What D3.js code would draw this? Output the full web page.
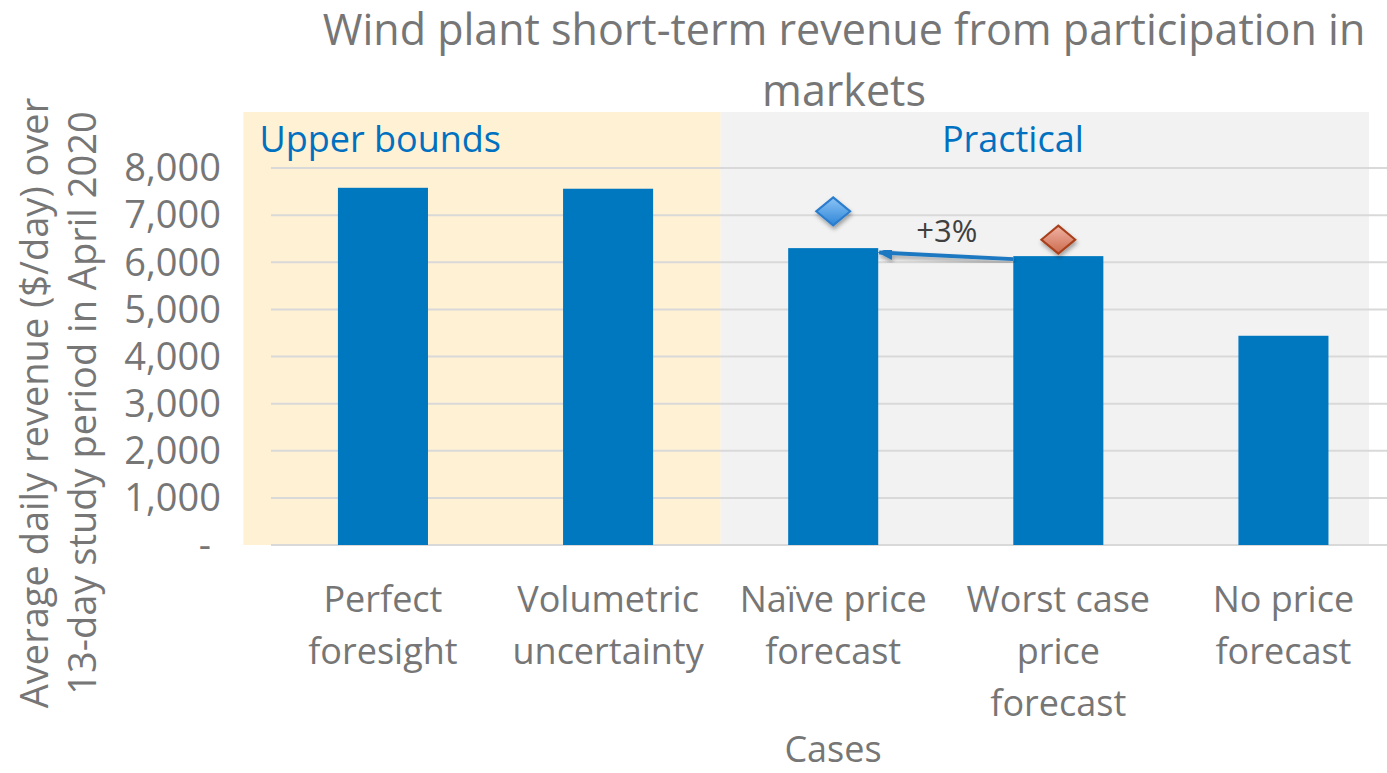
<!DOCTYPE html>
<html>
<head>
<meta charset="utf-8">
<script src="https://cdn.jsdelivr.net/npm/d3@7"></script>
<style>
  body { margin: 0; background: #fff; }
  text { font-family: "Open Sans", sans-serif; }
</style>
</head>
<body>
<div id="chart"></div>
<script>
// data
const categories = ["Perfect foresight", "Volumetric uncertainty", "Naïve price forecast", "Worst case price forecast", "No price forecast"];
const categoryLines = [["Perfect", "foresight"], ["Volumetric", "uncertainty"], ["Naïve price", "forecast"], ["Worst case", "price", "forecast"], ["No price", "forecast"]];
const revenue = [7580, 7560, 6300, 6130, 4440];
const markerCats = ["Naïve price forecast", "Worst case price forecast"];
const markerValues = [7080, 6480];
const groupNames = ["Upper bounds", "Practical"];
const groupFirst = [0, 2];
const groupLast = [1, 4];
const yTicks = [0, 1000, 2000, 3000, 4000, 5000, 6000, 7000, 8000];
const arrowLabel = "+3%";

const W = 1387, H = 773;
const svg = d3.select("#chart").append("svg")
  .attr("width", W).attr("height", H);

const defs = svg.append("defs");
const gBlue = defs.append("linearGradient").attr("id", "gBlue").attr("x1", 0).attr("y1", 0).attr("x2", 0).attr("y2", 1);
gBlue.append("stop").attr("offset", "0%").attr("stop-color", "#8cc4f5");
gBlue.append("stop").attr("offset", "100%").attr("stop-color", "#2f86d8");
const gRed = defs.append("linearGradient").attr("id", "gRed").attr("x1", 0).attr("y1", 0).attr("x2", 0).attr("y2", 1);
gRed.append("stop").attr("offset", "0%").attr("stop-color", "#f0b4a4");
gRed.append("stop").attr("offset", "100%").attr("stop-color", "#cc6a4e");
const shadow = defs.append("filter").attr("id", "shadow").attr("x", "-30%").attr("y", "-30%").attr("width", "160%").attr("height", "180%");
shadow.append("feDropShadow").attr("dx", 1).attr("dy", 3).attr("stdDeviation", 2).attr("flood-color", "#000").attr("flood-opacity", 0.35);
defs.append("marker").attr("id", "arrowHead")
  .attr("viewBox", "0 0 10 10").attr("refX", 9).attr("refY", 5)
  .attr("markerWidth", 3.6).attr("markerHeight", 3.4).attr("orient", "auto")
  .attr("preserveAspectRatio", "none")
  .append("path").attr("d", "M0,0 L10,5 L0,10 z").attr("fill", "#1f78c1");

const x = d3.scaleBand().domain(categories).range([270.4, 1396]).paddingInner(0.6).paddingOuter(0.3);
const y = d3.scaleLinear().domain([0, 8000]).range([545, 168]);

// shaded group boxes
const gap = x.step() - x.bandwidth();
const boxColors = ["#fff1d4", "#f2f2f2"];
groupNames.forEach((name, i) => {
  const first = categories[groupFirst[i]], last = categories[groupLast[i]];
  let x0 = i === 0 ? x(first) - gap / 2 - 27 : x(first) - gap / 2;
  let x1 = i === groupNames.length - 1 ? x(last) + x.bandwidth() + gap / 2 - 27 : x(last) + x.bandwidth() + gap / 2;
  svg.append("rect").attr("x", x0).attr("y", 112).attr("width", x1 - x0).attr("height", y(0) - 112)
    .attr("fill", boxColors[i]);
  const tx = i === 0 ? x0 + 16 : (x0 + x1) / 2 - 32;
  svg.append("text").attr("x", tx).attr("y", 152)
    .attr("text-anchor", i === 0 ? "start" : "middle")
    .attr("font-size", 36).attr("fill", "#0070c0").text(name);
});

// gridlines
svg.append("g").selectAll("line").data(yTicks).join("line")
  .attr("x1", 271).attr("x2", W)
  .attr("y1", d => y(d)).attr("y2", d => y(d))
  .attr("stroke", "#d9d9d9").attr("stroke-width", 2);

// y tick labels
svg.append("g").selectAll("text").data(yTicks).join("text")
  .attr("x", d => d === 0 ? 211 : 221)
  .attr("y", d => y(d))
  .attr("dy", "0.35em")
  .attr("text-anchor", "end")
  .attr("font-size", 38).attr("fill", "#767676")
  .text(d => d === 0 ? "-" : d3.format(",")(d));

// bars
svg.append("g").selectAll("rect").data(revenue).join("rect")
  .attr("x", (d, i) => x(categories[i]))
  .attr("y", d => y(d))
  .attr("width", x.bandwidth())
  .attr("height", d => y(0) - y(d))
  .attr("fill", "#0078c0");

// arrow from worst case to naive
const iFrom = 3, iTo = 2;
svg.append("line")
  .attr("x1", x(categories[iFrom])).attr("y1", y(revenue[iFrom]) + 3)
  .attr("x2", x(categories[iTo]) + x.bandwidth() + 1).attr("y2", y(revenue[iTo]) + 4.5)
  .attr("stroke", "#1f78c1").attr("stroke-width", 4)
  .attr("marker-end", "url(#arrowHead)")
  .attr("filter", "url(#shadow)");
svg.append("text")
  .attr("x", (x(categories[iTo]) + x.bandwidth() + x(categories[iFrom])) / 2 + 1)
  .attr("y", 242).attr("text-anchor", "middle")
  .attr("font-size", 31).attr("fill", "#404040").text(arrowLabel);

// diamond markers
const fills = ["url(#gBlue)", "url(#gRed)"];
const strokes = ["#2a7ccc", "#a8401c"];
svg.append("g").selectAll("path").data(markerValues).join("path")
  .attr("transform", (d, i) => `translate(${x(markerCats[i]) + x.bandwidth() / 2},${y(d)})`)
  .attr("d", "M0,-14 L17,0 L0,14 L-17,0 Z")
  .attr("fill", (d, i) => fills[i])
  .attr("stroke", (d, i) => strokes[i]).attr("stroke-width", 2)
  .attr("filter", "url(#shadow)");

// x category labels
const xl = svg.append("g");
categoryLines.forEach((lines, i) => {
  const t = xl.append("text").attr("text-anchor", "middle")
    .attr("font-size", 36).attr("fill", "#767676");
  lines.forEach((ln, j) => {
    t.append("tspan").attr("x", x(categories[i]) + x.bandwidth() / 2)
      .attr("y", 612 + j * 52).text(ln);
  });
});

// axis titles
svg.append("text").attr("x", 833).attr("y", 762).attr("text-anchor", "middle")
  .attr("font-size", 36).attr("fill", "#767676").text("Cases");
const yt = svg.append("text").attr("transform", "translate(0,403) rotate(-90)")
  .attr("text-anchor", "middle").attr("font-size", 38).attr("fill", "#767676");
yt.append("tspan").attr("x", 0).attr("y", 48).text("Average daily revenue ($/day) over");
yt.append("tspan").attr("x", 0).attr("y", 96).text("13-day study period in April 2020");

// chart title
const tt = svg.append("text").attr("text-anchor", "middle").attr("font-size", 43).attr("fill", "#767676");
tt.append("tspan").attr("x", 844).attr("y", 45).text("Wind plant short-term revenue from participation in");
tt.append("tspan").attr("x", 844).attr("y", 106).text("markets");
</script>
</body>
</html>
